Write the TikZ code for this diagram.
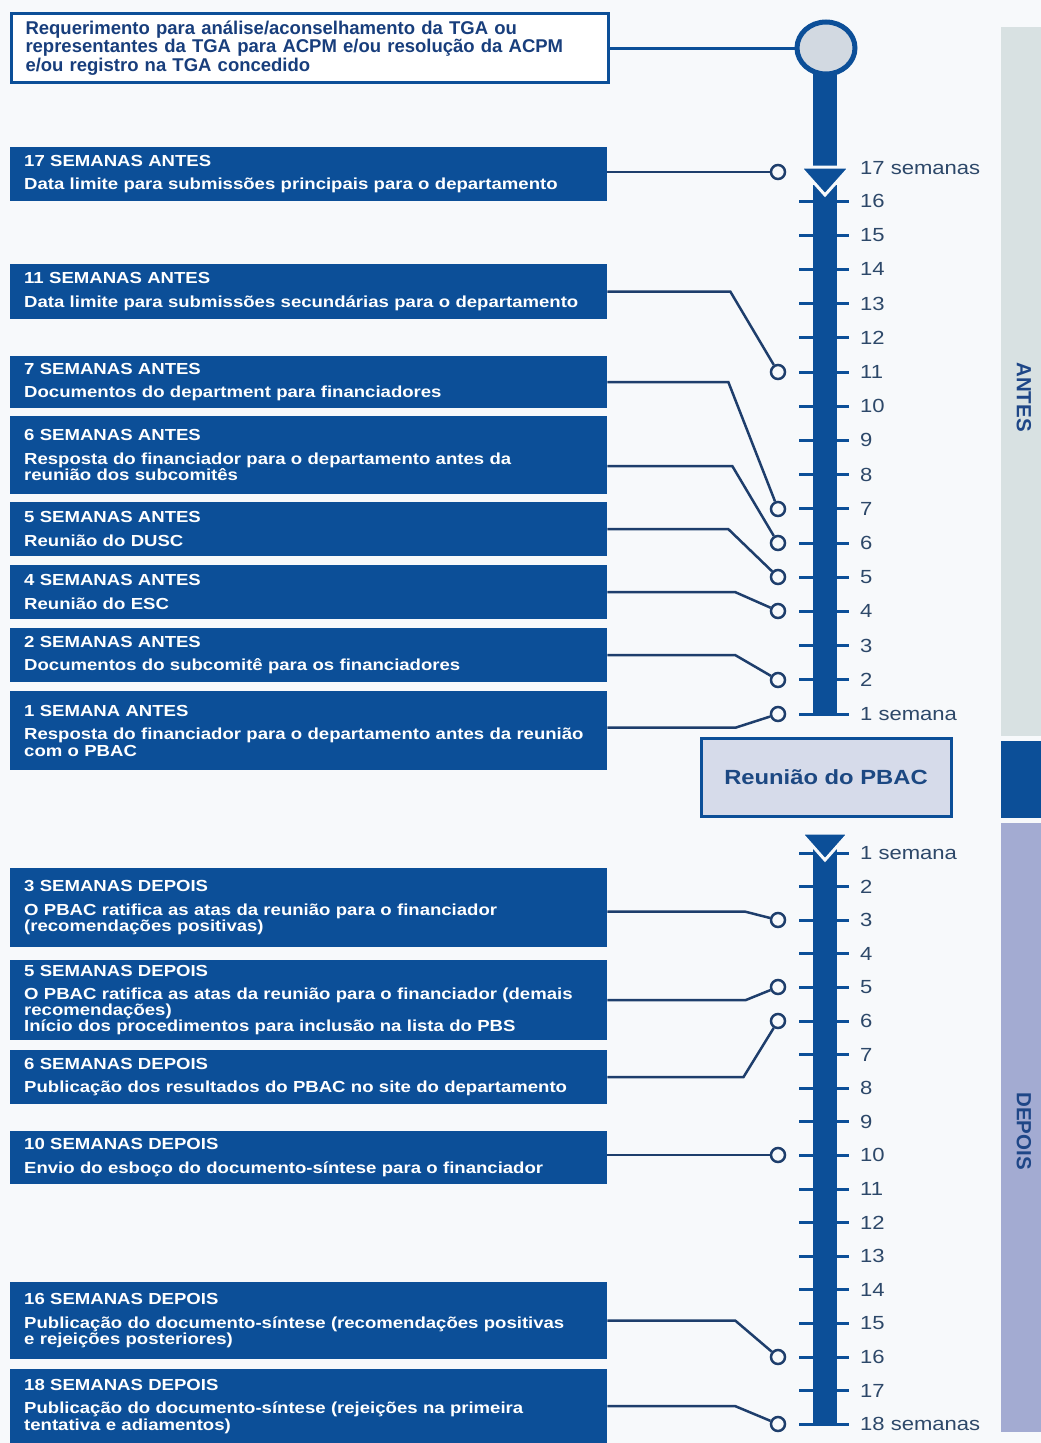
\documentclass[tikz,border=0pt]{standalone}
\usepackage{fontspec}
\setmainfont{Liberation Sans}
\newfontfamily\widefont[FakeStretch=1.16]{Liberation Sans}
\usetikzlibrary{calc,shapes.geometric}

\definecolor{bandblue}{RGB}{12,79,152}
\definecolor{linenavy}{RGB}{30,62,108}
\definecolor{numgrey}{RGB}{45,72,105}
\definecolor{bgpaper}{RGB}{247,249,251}
\definecolor{antesband}{RGB}{216,225,226}
\definecolor{depoisband}{RGB}{163,171,210}
\definecolor{pbacfill}{RGB}{214,219,234}
\definecolor{headblue}{RGB}{24,62,124}
\definecolor{knobfill}{RGB}{210,217,225}

% title line, then the description below it
\newcommand\evtext[2]{#1\\[7pt]#2}

\begin{document}
\begin{tikzpicture}[x=1pt,y=-1pt,
  evbox/.style={fill=bandblue, anchor=north west, minimum width=597pt,
    text width=569pt, inner xsep=14pt, inner ysep=0pt, align=left,
    text=white, font=\widefont\bfseries\fontsize{16}{16.5}\selectfont},
  conn/.style={draw=linenavy, line width=2.5pt},
  knob/.style={circle, draw=linenavy, line width=2.5pt, fill=bgpaper,
    minimum size=14pt, inner sep=0pt},
  tickmark/.style={draw=bandblue, line width=3pt},
  weeknum/.style={anchor=west, inner sep=0pt, text=numgrey,
    font=\widefont\fontsize{19}{19}\selectfont},
  sidelabel/.style={rotate=-90, inner sep=0pt, text={rgb,255:red,30;green,70;blue,135},
    font=\bfseries\fontsize{20.5}{20.5}\selectfont},
  bar/.style={fill=bandblue},
  arrowhead/.style={fill=bandblue, draw=bgpaper, line width=3pt, line join=miter}
]
\useasboundingbox (0,0) rectangle (1041,1443);
\fill[bgpaper] (0,0) rectangle (1041,1443);

% side bands
\fill[antesband] (1001,27) rectangle (1041,736);
\fill[bandblue] (1001,741) rectangle (1041,818);
\fill[depoisband] (1001,823) rectangle (1041,1432);
\node[sidelabel] (antes) at (1024,397) {ANTES};
\node[sidelabel] (depois) at (1024,1131) {DEPOIS};

% ---- upper timeline (weeks before) ----
\fill[bar] (813,60) rectangle (837,168);
\fill[bar] (813,185) rectangle (837,716);
\foreach \n in {1,...,16} {
  \pgfmathsetmacro\yy{714-(\n-1)*34.2}
  \draw[tickmark] (799,\yy) -- (849,\yy);
}
\foreach \n in {2,...,16} {
  \pgfmathsetmacro\yy{714-(\n-1)*34.2}
  \node[weeknum] (wa\n) at (860,\yy) {\n};
}
\node[weeknum] (wa17) at (860,168) {17 semanas};
\node[weeknum] (wa1) at (860,714) {1 semana};
\filldraw[arrowhead] (800,167) -- (850,167) -- (825,195) -- cycle;

% start knob and request box
\node[ellipse, draw=bandblue, line width=5pt, fill=knobfill,
  minimum width=58pt, minimum height=52pt] (start) at (826,48) {};
\node[anchor=north west, draw=bandblue, line width=3pt, fill=white,
  minimum width=597pt, minimum height=69pt, text width=569pt,
  inner xsep=14pt, inner ysep=0pt, align=left, text=headblue,
  font=\bfseries\fontsize{18.5}{16.5}\selectfont] (req) at (10,12)
  {Requerimento para análise/aconselhamento da TGA ou\\
   representantes da TGA para ACPM e/ou resolução da ACPM\\
   e/ou registro na TGA concedido};
\draw[draw=bandblue, line width=3pt] (req.east |- start) -- (start.west);

% ---- PBAC meeting ----
\node[draw=bandblue, line width=3pt, fill=pbacfill, minimum width=250pt,
  minimum height=78pt, text={rgb,255:red,28;green,72;blue,130},
  font=\widefont\bfseries\fontsize{20.5}{22}\selectfont] (pbac) at (826,777)
  {Reunião do PBAC};

% ---- lower timeline (weeks after) ----
\fill[bar] (813,848) rectangle (837,1426);
\foreach \n in {1,...,18} {
  \pgfmathsetmacro\yy{853+(\n-1)*33.6}
  \draw[tickmark] (799,\yy) -- (849,\yy);
}
\foreach \n in {2,...,17} {
  \pgfmathsetmacro\yy{853+(\n-1)*33.6}
  \node[weeknum] (wd\n) at (860,\yy) {\n};
}
\node[weeknum] (wd1) at (860,853) {1 semana};
\node[weeknum] (wd18) at (860,1424) {18 semanas};
\filldraw[arrowhead] (801,833) -- (849,833) -- (825,860) -- cycle;

% ---- event boxes, before ----
\node[evbox, minimum height=54pt] (A17) at (10,147)
  {\evtext{17 SEMANAS ANTES}{Data limite para submissões principais para o departamento}};
\node[evbox, minimum height=55pt] (A11) at (10,264)
  {\evtext{11 SEMANAS ANTES}{Data limite para submissões secundárias para o departamento}};
\node[evbox, minimum height=52pt] (A7) at (10,356)
  {\evtext{7 SEMANAS ANTES}{Documentos do department para financiadores}};
\node[evbox, minimum height=78pt] (A6) at (10,416)
  {\evtext{6 SEMANAS ANTES}{Resposta do financiador para o departamento antes da\\reunião dos subcomitês}};
\node[evbox, minimum height=54pt] (A5) at (10,502)
  {\evtext{5 SEMANAS ANTES}{Reunião do DUSC}};
\node[evbox, minimum height=54pt] (A4) at (10,565)
  {\evtext{4 SEMANAS ANTES}{Reunião do ESC}};
\node[evbox, minimum height=54pt] (A2) at (10,628)
  {\evtext{2 SEMANAS ANTES}{Documentos do subcomitê para os financiadores}};
\node[evbox, minimum height=79pt] (A1) at (10,691)
  {\evtext{1 SEMANA ANTES}{Resposta do financiador para o departamento antes da reunião\\com o PBAC}};

% ---- event boxes, after ----
\node[evbox, minimum height=79pt] (D3) at (10,868)
  {\evtext{3 SEMANAS DEPOIS}{O PBAC ratifica as atas da reunião para o financiador\\(recomendações positivas)}};
\node[evbox, minimum height=80pt, font=\widefont\bfseries\fontsize{16}{16}\selectfont] (D5) at (10,960)
  {\evtext{5 SEMANAS DEPOIS}{O PBAC ratifica as atas da reunião para o financiador (demais\\recomendações)\\Início dos procedimentos para inclusão na lista do PBS}};
\node[evbox, minimum height=54pt] (D6) at (10,1050)
  {\evtext{6 SEMANAS DEPOIS}{Publicação dos resultados do PBAC no site do departamento}};
\node[evbox, minimum height=53pt] (D10) at (10,1131)
  {\evtext{10 SEMANAS DEPOIS}{Envio do esboço do documento-síntese para o financiador}};
\node[evbox, minimum height=77pt] (D16) at (10,1282)
  {\evtext{16 SEMANAS DEPOIS}{Publicação do documento-síntese (recomendações positivas\\e rejeições posteriores)}};
\node[evbox, minimum height=74pt] (D18) at (10,1369)
  {\evtext{18 SEMANAS DEPOIS}{Publicação do documento-síntese (rejeições na primeira\\tentativa e adiamentos)}};

% ---- knobs on the timeline ----
\node[knob] (kA17) at (778,172) {};
\node[knob] (kA11) at (778,372) {};
\node[knob] (kA7) at (778,509) {};
\node[knob] (kA6) at (778,543) {};
\node[knob] (kA5) at (778,577) {};
\node[knob] (kA4) at (778,611) {};
\node[knob] (kA2) at (778,680) {};
\node[knob] (kA1) at (778,714) {};
\node[knob] (kD3) at (778,920) {};
\node[knob] (kD5) at (778,987) {};
\node[knob] (kD6) at (778,1021) {};
\node[knob] (kD10) at (778,1155) {};
\node[knob] (kD16) at (778,1357) {};
\node[knob] (kD18) at (778,1424) {};

% ---- connectors ----
\draw[conn] (A17.east |- kA17) -- (kA17);
\draw[conn] (A11.east) -- ++(123,0) -- (kA11);
\draw[conn] (A7.east) -- ++(121,0) -- (kA7);
\draw[conn] ($(A6.east)+(0,11)$) -- ++(125,0) -- (kA6);
\draw[conn] (A5.east) -- ++(121,0) -- (kA5);
\draw[conn] (A4.east) -- ++(128,0) -- (kA4);
\draw[conn] (A2.east) -- ++(128,0) -- (kA2);
\draw[conn] ($(A1.east)+(0,-3)$) -- ++(128,0) -- (kA1);
\draw[conn] ($(D3.east)+(0,4)$) -- ++(138,0) -- (kD3);
\draw[conn] (D5.east) -- ++(138,0) -- (kD5);
\draw[conn] (D6.east) -- ++(136,0) -- (kD6);
\draw[conn] (D10.east |- kD10) -- (kD10);
\draw[conn] (D16.east) -- ++(128,0) -- (kD16);
\draw[conn] (D18.east) -- ++(128,0) -- (kD18);
\end{tikzpicture}
\end{document}
